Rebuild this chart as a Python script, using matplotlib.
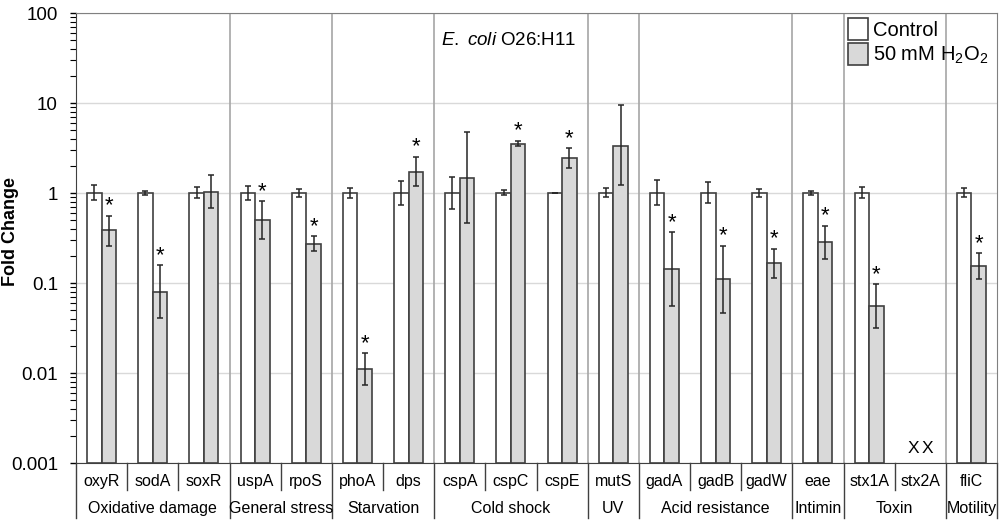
import numpy as np
import matplotlib
matplotlib.use("Agg")
from matplotlib import pyplot as plt
from matplotlib.patches import Patch

plt.rcParams['font.family'] = ['Liberation Sans', 'DejaVu Sans']
plt.rcParams['mathtext.fontset'] = 'custom'
plt.rcParams['mathtext.rm'] = 'Liberation Sans'
plt.rcParams['mathtext.it'] = 'Liberation Sans:italic'

# ---- data ----
genes = ['oxyR', 'sodA', 'soxR', 'uspA', 'rpoS', 'phoA', 'dps', 'cspA', 'cspC', 'cspE',
         'mutS', 'gadA', 'gadB', 'gadW', 'eae', 'stx1A', 'stx2A', 'fliC']
groups = ['Oxidative damage', 'General stress', 'Starvation', 'Cold shock', 'UV',
          'Acid resistance', 'Intimin', 'Toxin', 'Motility']
group_sizes = [3, 2, 2, 3, 1, 3, 1, 2, 1]

ctrl_mean = [1, 1, 1, 1, 1, 1, 1, 1, 1, 1, 1, 1, 1, 1, 1, 1, np.nan, 1]
ctrl_hi = [1.23, 1.06, 1.18, 1.20, 1.10, 1.13, 1.35, 1.49, 1.09, 1.01,
           1.13, 1.41, 1.34, 1.10, 1.06, 1.16, np.nan, 1.13]
ctrl_lo = [0.835, 0.95, 0.88, 0.84, 0.91, 0.89, 0.73, 0.67, 0.94, 0.99,
           0.90, 0.73, 0.77, 0.91, 0.96, 0.89, np.nan, 0.90]

h2o2_mean = [0.385, 0.0805, 1.03, 0.50, 0.271, 0.0112, 1.72, 1.48, 3.52, 2.44,
             3.34, 0.145, 0.112, 0.166, 0.287, 0.0557, np.nan, 0.153]
h2o2_hi = [0.56, 0.159, 1.59, 0.81, 0.332, 0.0167, 2.53, 4.73, 3.83, 3.17,
           9.4, 0.366, 0.259, 0.24, 0.434, 0.097, np.nan, 0.216]
h2o2_lo = [0.257, 0.041, 0.69, 0.305, 0.226, 0.0074, 1.19, 0.47, 3.32, 1.88,
           1.22, 0.056, 0.047, 0.114, 0.184, 0.032, np.nan, 0.112]
signif = [1, 1, 0, 1, 1, 1, 1, 0, 1, 1, 0, 1, 1, 1, 1, 1, 0, 1]
not_detected = ['stx2A']

# ---- figure ----
fig = plt.figure(figsize=(10, 5.22), dpi=100)
ax = fig.add_axes([0.076, 0.113, 0.921, 0.862])

x = np.arange(len(genes))
w = 0.285
off = 0.142
base = 1e-3
edge = '#404040'

cm = np.array(ctrl_mean, float)
tm = np.array(h2o2_mean, float)
ax.bar(x - off, cm - base, w, bottom=base, color='white', edgecolor=edge, linewidth=1.2, zorder=3)
ax.bar(x + off, tm - base, w, bottom=base, color='#d9d9d9', edgecolor=edge, linewidth=1.2, zorder=3)

c_err = [cm - np.array(ctrl_lo), np.array(ctrl_hi) - cm]
t_err = [tm - np.array(h2o2_lo), np.array(h2o2_hi) - tm]
ax.errorbar(x - off, cm, yerr=c_err, fmt='none', ecolor='#262626', elinewidth=1.1, capsize=2.5, capthick=1.1, zorder=4)
ax.errorbar(x + off, tm, yerr=t_err, fmt='none', ecolor='#262626', elinewidth=1.1, capsize=2.5, capthick=1.1, zorder=4)

for i, s in enumerate(signif):
    if s:
        ax.annotate('*', (x[i] + off, h2o2_hi[i]), xytext=(0, 3), textcoords='offset points',
                    ha='center', va='baseline', fontsize=16)

for g in not_detected:
    i = genes.index(g)
    for dx in (-off, off):
        ax.annotate('X', (x[i] + dx, base), xytext=(0, 5), textcoords='offset points',
                    ha='center', va='bottom', fontsize=12.5)

ax.set_yscale('log')
ax.set_ylim(1e-3, 100)
ax.set_xlim(-0.5, len(genes) - 0.5)
ax.set_yticks([1e-3, 1e-2, 1e-1, 1, 10, 100])
ax.set_yticklabels(['0.001', '0.01', '0.1', '1', '10', '100'])
ax.tick_params(axis='y', which='major', direction='out', length=4, width=1, labelsize=13.5, pad=9)
ax.tick_params(axis='y', which='minor', direction='out', length=4, width=0.8)
ax.set_xticks([])
ax.yaxis.grid(True, which='major', color='#d9d9d9', linewidth=1, zorder=0)
ax.set_axisbelow(True)
ax.set_ylabel('Fold Change', fontsize=13, fontweight='bold')
ax.yaxis.set_label_coords(-0.062, 0.515)

for sp in ['left', 'bottom']:
    ax.spines[sp].set_color('#404040')
for sp in ['top', 'right']:
    ax.spines[sp].set_color('#808080')

# group separators and category axis labels
tr = ax.get_xaxis_transform()
bounds = np.cumsum([0] + group_sizes) - 0.5
for b in bounds[1:-1]:
    ax.axvline(b, color='#a6a6a6', linewidth=1.2, zorder=1)
for b in bounds:
    ax.plot([b, b], [0, -0.122], transform=tr, color='#404040', linewidth=1, clip_on=False)
for k in range(1, len(genes)):
    if k - 0.5 not in bounds:
        ax.plot([k - 0.5, k - 0.5], [0, -0.06], transform=tr, color='#404040', linewidth=1, clip_on=False)
for i, g in enumerate(genes):
    ax.text(x[i], -0.04, g, transform=tr, ha='center', va='center', fontsize=11.5)
for j, name in enumerate(groups):
    mid = (bounds[j] + bounds[j + 1]) / 2
    ax.text(mid, -0.1, name, transform=tr, ha='center', va='center', fontsize=11.5)

ax.text(0.396, 0.94, r'$\it{E.}$ $\it{coli}$ O26:H11', transform=ax.transAxes, ha='left', va='center', fontsize=13.5)

handles = [Patch(facecolor='white', edgecolor=edge, linewidth=1.2),
           Patch(facecolor='#d9d9d9', edgecolor=edge, linewidth=1.2)]
ax.legend(handles, ['Control', r'50 mM H$_2$O$_2$'], loc='upper left', bbox_to_anchor=(0.836, 0.993),
          frameon=False, fontsize=14.5, handlelength=1.0, handleheight=1.3, handletextpad=0.25,
          borderpad=0.1, labelspacing=0.15, borderaxespad=0)

fig.savefig('out.png', dpi=100)
